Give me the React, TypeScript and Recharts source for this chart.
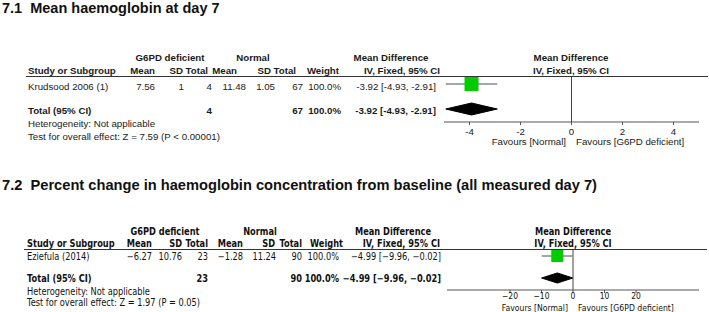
import React from 'react';
import { Area, ComposedChart, ReferenceLine, Scatter, XAxis, YAxis } from 'recharts';

// 7.1 Mean haemoglobin at day 7
const p1Title = '7.1\u00a0\u00a0Mean haemoglobin at day 7';
const p1Studies = ['Krudsood 2006 (1)'];
const p1DefMean = [7.56];
const p1DefSD = [1];
const p1DefN = [4];
const p1NormMean = [11.48];
const p1NormSD = [1.05];
const p1NormN = [67];
const p1Weight = [100];
const p1Est = [-3.92];
const p1Lo = [-4.93];
const p1Hi = [-2.91];
const p1Total = { def: 4, norm: 67, weight: 100, est: -3.92, lo: -4.93, hi: -2.91 };
const p1Het = 'Heterogeneity: Not applicable';
const p1Test = 'Test for overall effect: Z = 7.59 (P < 0.00001)';
const p1Ticks = [-4, -2, 0, 2, 4];
const p1Domain: [number, number] = [-5, 5];

// 7.2 Percent change from baseline
const p2Title = '7.2\u00a0\u00a0Percent change in haemoglobin concentration from baseline (all measured day 7)';
const p2Studies = ['Eziefula (2014)'];
const p2DefMean = [-6.27];
const p2DefSD = [10.76];
const p2DefN = [23];
const p2NormMean = [-1.28];
const p2NormSD = [11.24];
const p2NormN = [90];
const p2Weight = [100];
const p2Est = [-4.99];
const p2Lo = [-9.96];
const p2Hi = [-0.02];
const p2Total = { def: 23, norm: 90, weight: 100, est: -4.99, lo: -9.96, hi: -0.02 };
const p2Het = 'Heterogeneity: Not applicable';
const p2Test = 'Test for overall effect: Z = 1.97 (P = 0.05)';
const p2Ticks = [-20, -10, 0, 10, 20];
const p2Domain: [number, number] = [-40, 40];

type Font = { family: string; size: number; sx: number; minus: string; color: string };

const f1: Font = { family: 'Liberation Sans, Arial, sans-serif', size: 9.7, sx: 1, minus: '-', color: '#1a1a1a' };
const f2: Font = { family: 'DejaVu Sans, Verdana, sans-serif', size: 9.6, sx: 0.86, minus: '\u2212', color: '#111' };

const num = (v: number, f: Font, d?: number) => {
  const s = d === undefined ? String(Math.abs(v)) : Math.abs(v).toFixed(d);
  return v < 0 ? f.minus + s : s;
};
const ci = (e: number, lo: number, hi: number, f: Font) =>
  `${num(e, f, 2)} [${num(lo, f, 2)}, ${num(hi, f, 2)}]`;

function T({ x, y, f, anchor = 'start', bold = false, size, children }: any) {
  return (
    <text
      transform={`translate(${x},${y}) scale(${f.sx},1)`}
      textAnchor={anchor}
      fontFamily={f.family}
      fontSize={size ?? f.size}
      fontWeight={bold ? 700 : 400}
      fill={f.color}
    >
      {children}
    </text>
  );
}

type PlotProps = {
  left: number;
  top: number;
  width: number;
  plotHeight: number;
  axisHeight: number;
  domain: [number, number];
  yDomain: [number, number];
  ticks: number[];
  tickMargin: number;
  tickFont: number;
  f: Font;
  est: number[];
  lo: number[];
  hi: number[];
  total: { est: number; lo: number; hi: number };
  boxSize: number;
  diamondHalf: number;
};

function ForestPlot(p: PlotProps) {
  const totalRow = p.est.length;
  const diamond = [
    { x: p.total.lo, band: [totalRow, totalRow] },
    { x: p.total.est, band: [totalRow - p.diamondHalf, totalRow + p.diamondHalf] },
    { x: p.total.hi, band: [totalRow, totalRow] },
  ];
  const squares = p.est.map((e, i) => ({ x: e, row: i }));
  const renderTick = (props: any) => (
    <T x={props.x} y={props.y} f={p.f} size={p.tickFont} anchor='middle'>
      <tspan dy='0.71em'>{num(props.payload.value, p.f)}</tspan>
    </T>
  );
  return (
    <div style={{ position: 'absolute', left: p.left, top: p.top }}>
      <ComposedChart
        width={p.width}
        height={p.plotHeight + p.axisHeight}
        data={diamond}
        margin={{ top: 0, right: 0, bottom: 0, left: 0 }}
      >
        <XAxis
          type='number'
          dataKey='x'
          domain={p.domain}
          ticks={p.ticks}
          interval={0}
          allowDataOverflow
          height={p.axisHeight}
          axisLine={{ stroke: '#555' }}
          tickLine={{ stroke: '#555' }}
          tickSize={3}
          tickMargin={p.tickMargin}
          tick={renderTick}
        />
        <YAxis type='number' dataKey='row' hide reversed domain={p.yDomain} allowDataOverflow />
        <ReferenceLine x={0} stroke='#444' strokeWidth={1} />
        {p.est.map((_, i) => (
          <Scatter
            key={'w' + i}
            data={[
              { x: p.lo[i], row: i },
              { x: p.hi[i], row: i },
            ]}
            line={{ stroke: '#8a8a8a', strokeWidth: 1.5 }}
            shape={() => <g />}
            isAnimationActive={false}
          />
        ))}
        <Scatter
          data={squares}
          shape={(s: any) => (
            <rect
              x={s.cx - p.boxSize / 2}
              y={s.cy - p.boxSize / 2}
              width={p.boxSize}
              height={p.boxSize}
              fill='#00cc00'
            />
          )}
          isAnimationActive={false}
        />
        <Area
          type='linear'
          dataKey='band'
          stroke='#000'
          strokeWidth={1}
          fill='#000'
          fillOpacity={1}
          isAnimationActive={false}
        />
      </ComposedChart>
    </div>
  );
}

type TableProps = {
  f: Font;
  title: string;
  titleY: number;
  titleSize: number;
  titleLen?: number;
  titleFamily: string;
  left: number;
  h1: number;
  h2: number;
  lineY: number;
  lineX: [number, number];
  rowY: number[];
  totalY: number;
  hetY: number;
  testY: number;
  favY: number;
  favSize?: number;
  zeroX: number;
  headRight: number[];
  valRight: number[];
  groupCenters: number[];
  studies: string[];
  defMean: number[];
  defSD: number[];
  defN: number[];
  normMean: number[];
  normSD: number[];
  normN: number[];
  weight: number[];
  est: number[];
  lo: number[];
  hi: number[];
  total: { def: number; norm: number; weight: number; est: number; lo: number; hi: number };
  het: string;
  test: string;
};

function Table(t: TableProps) {
  const f = t.f;
  const heads = ['Mean', 'SD', 'Total', 'Mean', 'SD', 'Total', 'Weight', 'IV, Fixed, 95% CI'];
  const vr = t.valRight;
  return (
    <g>
      <text
        x={2}
        y={t.titleY}
        fontFamily={t.titleFamily}
        fontSize={t.titleSize}
        fontWeight={700}
        fill='#111'
        textLength={t.titleLen}
        lengthAdjust={t.titleLen ? 'spacingAndGlyphs' : undefined}
      >
        {t.title}
      </text>
      <T x={t.groupCenters[0]} y={t.h1} f={f} anchor='middle' bold>G6PD deficient</T>
      <T x={t.groupCenters[1]} y={t.h1} f={f} anchor='middle' bold>Normal</T>
      <T x={t.groupCenters[2]} y={t.h1} f={f} anchor='middle' bold>Mean Difference</T>
      <T x={t.zeroX} y={t.h1} f={f} anchor='middle' bold>Mean Difference</T>
      <T x={t.left} y={t.h2} f={f} bold>Study or Subgroup</T>
      {heads.map((h, i) => (
        <T key={i} x={t.headRight[i]} y={t.h2} f={f} anchor='end' bold>{h}</T>
      ))}
      <T x={t.zeroX} y={t.h2} f={f} anchor='middle' bold>IV, Fixed, 95% CI</T>
      <line x1={t.lineX[0]} x2={t.lineX[1]} y1={t.lineY} y2={t.lineY} stroke='#333' strokeWidth={1.2} />
      {t.studies.map((s, i) => (
        <g key={s}>
          <T x={t.left} y={t.rowY[i]} f={f}>{s}</T>
          <T x={vr[0]} y={t.rowY[i]} f={f} anchor='end'>{num(t.defMean[i], f)}</T>
          <T x={vr[1]} y={t.rowY[i]} f={f} anchor='end'>{num(t.defSD[i], f)}</T>
          <T x={vr[2]} y={t.rowY[i]} f={f} anchor='end'>{num(t.defN[i], f)}</T>
          <T x={vr[3]} y={t.rowY[i]} f={f} anchor='end'>{num(t.normMean[i], f)}</T>
          <T x={vr[4]} y={t.rowY[i]} f={f} anchor='end'>{num(t.normSD[i], f)}</T>
          <T x={vr[5]} y={t.rowY[i]} f={f} anchor='end'>{num(t.normN[i], f)}</T>
          <T x={vr[6]} y={t.rowY[i]} f={f} anchor='end'>{t.weight[i].toFixed(1)}%</T>
          <T x={vr[7]} y={t.rowY[i]} f={f} anchor='end'>{ci(t.est[i], t.lo[i], t.hi[i], f)}</T>
        </g>
      ))}
      <T x={t.left} y={t.totalY} f={f} bold>Total (95% CI)</T>
      <T x={vr[2]} y={t.totalY} f={f} anchor='end' bold>{t.total.def}</T>
      <T x={vr[5]} y={t.totalY} f={f} anchor='end' bold>{t.total.norm}</T>
      <T x={vr[6]} y={t.totalY} f={f} anchor='end' bold>{t.total.weight.toFixed(1)}%</T>
      <T x={vr[7]} y={t.totalY} f={f} anchor='end' bold>{ci(t.total.est, t.total.lo, t.total.hi, f)}</T>
      <T x={t.left} y={t.hetY} f={f}>{t.het}</T>
      <T x={t.left} y={t.testY} f={f}>{t.test}</T>
      <T x={t.zeroX - 5} y={t.favY} f={f} size={t.favSize} anchor='end'>Favours [Normal]</T>
      <T x={t.zeroX + 5} y={t.favY} f={f} size={t.favSize}>Favours [G6PD deficient]</T>
    </g>
  );
}

export default function App() {
  return (
    <div style={{ position: 'absolute', left: 0, top: 0, width: 709, height: 312, background: '#fff' }}>
      <ForestPlot
        left={444}
        top={77}
        width={255}
        plotHeight={45}
        axisHeight={18}
        domain={p1Domain}
        yDomain={[-0.28, 1.52]}
        ticks={p1Ticks}
        tickMargin={3}
        tickFont={9.7}
        f={f1}
        est={p1Est}
        lo={p1Lo}
        hi={p1Hi}
        total={p1Total}
        boxSize={14}
        diamondHalf={0.24}
      />
      <ForestPlot
        left={447}
        top={250}
        width={252}
        plotHeight={40}
        axisHeight={12}
        domain={p2Domain}
        yDomain={[-0.273, 1.545]}
        ticks={p2Ticks}
        tickMargin={0}
        tickFont={8.8}
        f={f2}
        est={p2Est}
        lo={p2Lo}
        hi={p2Hi}
        total={p2Total}
        boxSize={12}
        diamondHalf={0.23}
      />
      <svg width={709} height={312} style={{ position: 'absolute', left: 0, top: 0, pointerEvents: 'none' }}>
        <Table
          f={f1}
          title={p1Title}
          titleY={13}
          titleSize={14.5}
          titleFamily='Liberation Sans, Arial, sans-serif'
          left={28}
          h1={61}
          h2={74}
          lineY={76.5}
          lineX={[26, 708]}
          rowY={[90]}
          totalY={114}
          hetY={127}
          testY={140}
          favY={145}
          zeroX={571}
          headRight={[155, 183, 208, 237, 271, 296, 339, 440]}
          valRight={[155, 184, 212, 246, 275, 303, 341, 436]}
          groupCenters={[170, 253, 391]}
          studies={p1Studies}
          defMean={p1DefMean}
          defSD={p1DefSD}
          defN={p1DefN}
          normMean={p1NormMean}
          normSD={p1NormSD}
          normN={p1NormN}
          weight={p1Weight}
          est={p1Est}
          lo={p1Lo}
          hi={p1Hi}
          total={p1Total}
          het={p1Het}
          test={p1Test}
        />
        <Table
          f={f2}
          title={p2Title}
          titleY={190}
          titleSize={14}
          titleLen={595}
          titleFamily='Liberation Sans, Arial, sans-serif'
          left={27}
          h1={235}
          h2={246.5}
          lineY={249.5}
          lineX={[24, 707]}
          rowY={[260]}
          totalY={282}
          hetY={294.5}
          testY={306}
          favY={310.5}
          favSize={9}
          zeroX={573}
          headRight={[152, 182, 208, 243, 275, 302, 343, 440]}
          valRight={[152, 182, 208, 243, 276, 302, 339, 441]}
          groupCenters={[165, 260, 393]}
          studies={p2Studies}
          defMean={p2DefMean}
          defSD={p2DefSD}
          defN={p2DefN}
          normMean={p2NormMean}
          normSD={p2NormSD}
          normN={p2NormN}
          weight={p2Weight}
          est={p2Est}
          lo={p2Lo}
          hi={p2Hi}
          total={p2Total}
          het={p2Het}
          test={p2Test}
        />
      </svg>
    </div>
  );
}
